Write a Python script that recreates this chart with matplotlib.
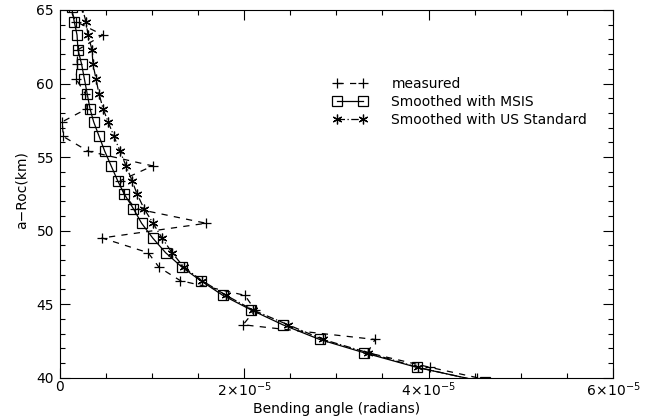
import numpy as np
import matplotlib
matplotlib.use('Agg')
from matplotlib import pyplot as plt
from matplotlib.ticker import MultipleLocator, FuncFormatter

# altitude grid (km) of the retrieval
alt = [39.7, 40.7, 41.7, 42.6, 43.6, 44.6, 45.6, 46.6, 47.5, 48.5, 49.5, 50.5, 51.5,
       52.5, 53.4, 54.4, 55.4, 56.4, 57.4, 58.3, 59.3, 60.3, 61.3, 62.3, 63.3, 64.2, 65.2]

# bending angle, units of 1e-5 rad
msis = [4.61, 3.875, 3.30, 2.82, 2.42, 2.08, 1.77, 1.53, 1.33, 1.15, 1.01, 0.89, 0.80,
        0.70, 0.63, 0.56, 0.49, 0.43, 0.37, 0.33, 0.30, 0.27, 0.24, 0.20, 0.19, 0.16, 0.13]
usstd = [4.60, 3.886, 3.344, 2.856, 2.477, 2.098, 1.805, 1.545, 1.350, 1.220, 1.111, 1.014, 0.916,
         0.840, 0.786, 0.721, 0.656, 0.591, 0.526, 0.472, 0.428, 0.396, 0.363, 0.352, 0.309, 0.287, 0.244]

alt_meas = [40.0, 40.7, 41.7, 42.6, 43.6, 44.6, 45.6, 46.6, 47.5, 48.5, 49.5, 50.5, 51.5,
            52.5, 53.4, 54.4, 55.4, 56.4, 57.4, 58.3, 59.3, 60.3, 61.3, 62.3, 63.3, 64.2, 65.2]
measured = [4.53, 4.02, 3.34, 3.42, 1.99, 2.12, 2.01, 1.31, 1.08, 0.96, 0.46, 1.59, 0.82,
            0.70, 0.66, 1.01, 0.31, 0.04, 0.03, 0.30, 0.28, 0.18, 0.19, 0.20, 0.47, 0.18, 0.10]

xticks = [0, 2, 4, 6]

plt.rcParams['font.family'] = ['DejaVu Sans']
plt.rcParams['mathtext.fontset'] = 'dejavusans'

fig = plt.figure(figsize=(6.54, 4.18), dpi=100)
ax = fig.add_axes([0.091, 0.0964, 0.8463, 0.8797])

scale = 1e-5
ax.plot(np.array(measured) * scale, alt_meas, color='k', lw=0.9, ls=(0, (5, 5)),
        marker='+', ms=7, mew=0.9, label='measured')
ax.plot(np.array(msis) * scale, alt, color='k', lw=0.9, ls='-',
        marker='s', ms=7.5, mfc='none', mew=0.9, label='Smoothed with MSIS')
ax.plot(np.array(usstd) * scale, alt, color='k', lw=0.9, ls=(0, (6, 2, 1, 2)),
        marker=(6, 2, 0), ms=7, mew=0.9, label='Smoothed with US Standard')

ax.set_xlim(0, 6e-5)
ax.set_ylim(40, 65)
ax.set_xticks(np.array(xticks) * scale)


def fmt(v, pos):
    n = int(round(v / scale))
    if n == 0:
        return '0'
    return r'$%d\!\times\!10^{-5}$' % n


ax.xaxis.set_major_formatter(FuncFormatter(fmt))
ax.xaxis.set_minor_locator(MultipleLocator(0.5e-5))
ax.yaxis.set_major_locator(MultipleLocator(5))
ax.yaxis.set_minor_locator(MultipleLocator(1))
ax.tick_params(which='both', direction='in', top=True, right=True, labelsize=10, width=0.8)
ax.tick_params(which='major', length=7)
ax.tick_params(axis='x', which='major', pad=2)
ax.tick_params(axis='y', which='major', pad=4)
ax.tick_params(which='minor', length=3.5)
for s in ax.spines.values():
    s.set_linewidth(0.8)

ax.set_xlabel('Bending angle (radians)', fontsize=10, va='center')
ax.xaxis.set_label_coords(0.5, -0.085)
ax.set_ylabel('a\u2212Roc(km)', fontsize=10, va='center')
ax.yaxis.set_label_coords(-0.068, 0.51)

ax.legend(loc='upper left', bbox_to_anchor=(0.494, 0.818), frameon=False, fontsize=10,
          numpoints=2, handlelength=2.5, handletextpad=1.7, labelspacing=0.3,
          borderpad=0, borderaxespad=0)

fig.savefig('out.png', dpi=100)
